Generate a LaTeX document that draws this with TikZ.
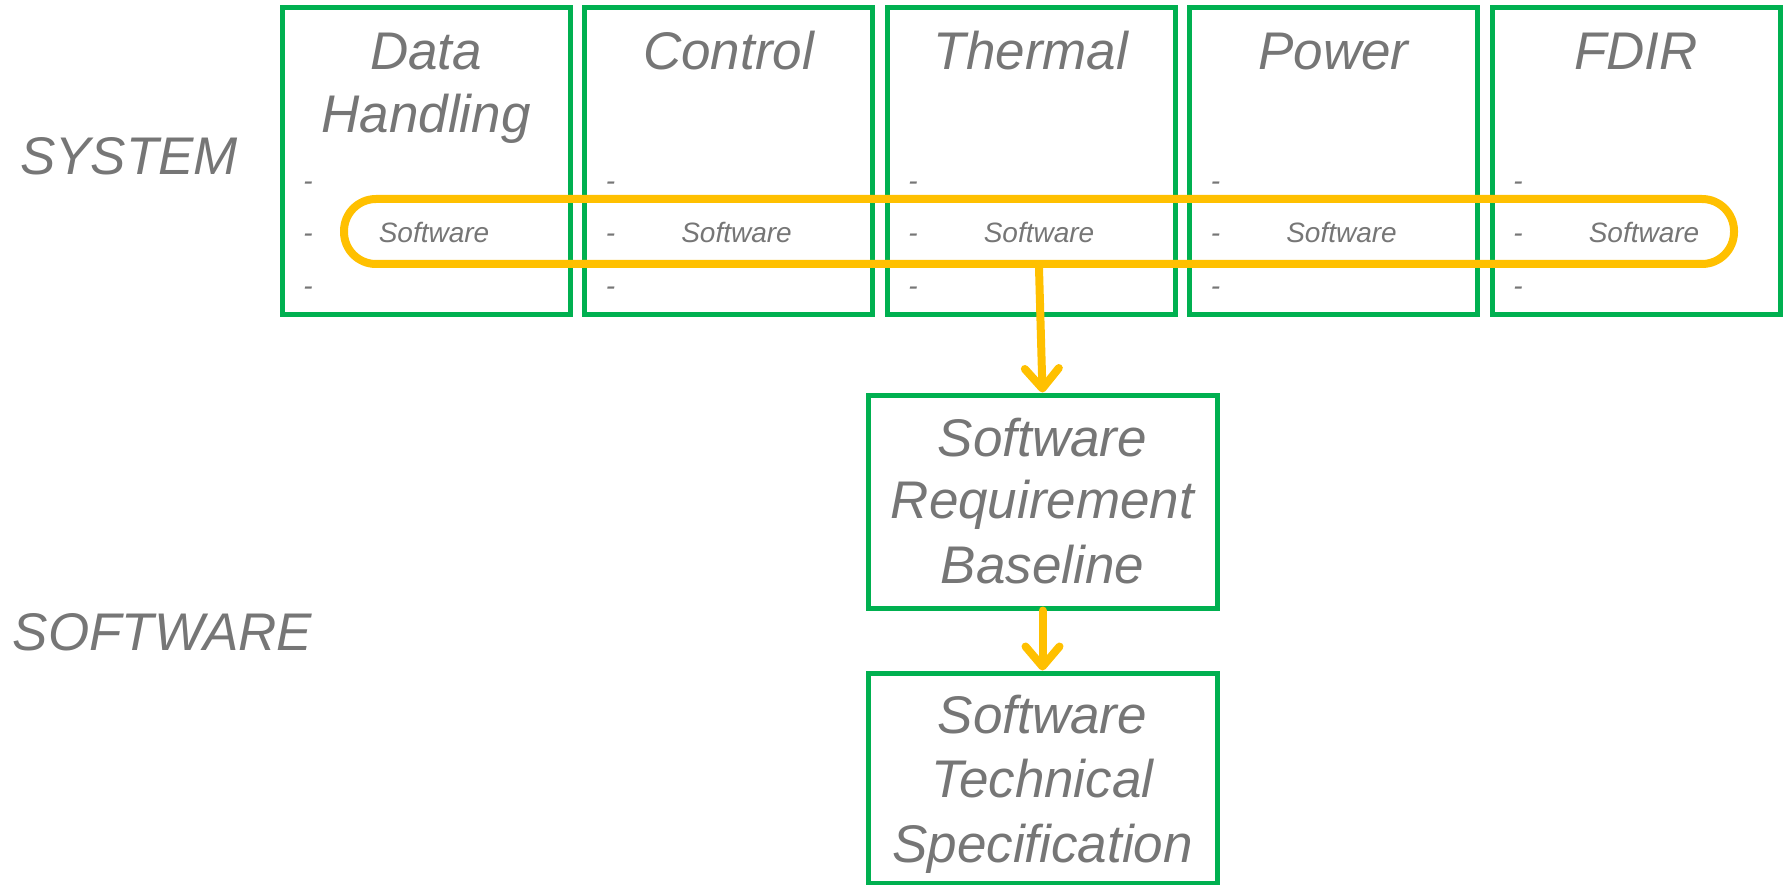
\documentclass[tikz,border=0pt]{standalone}
\usepackage{fontspec}
\setmainfont{Liberation Sans}
\usetikzlibrary{arrows.meta}
\definecolor{boxgreen}{HTML}{00B050}
\definecolor{loopor}{HTML}{FFC000}
\definecolor{txtgray}{HTML}{767676}
\begin{document}
\begin{tikzpicture}[x=1pt,y=-1pt,
  sysbox/.style={draw=boxgreen, line width=5pt, minimum width=288pt, minimum height=307pt, inner sep=0pt},
  swbox/.style={draw=boxgreen, line width=5pt, minimum width=349pt, inner sep=0pt},
  bigtxt/.style={anchor=base, text=txtgray, inner sep=0pt, font=\fontsize{53}{63}\selectfont\itshape},
  smalltxt/.style={anchor=base, text=txtgray, inner sep=0pt, font=\fontsize{28}{30}\selectfont\itshape},
  flow/.style={draw=loopor, line width=8pt, line cap=round, -{Straight Barb[length=20pt, width=34pt, line cap=round, line join=round]}}
]
\useasboundingbox (0,0) rectangle (1783,885);

% side labels
\node[bigtxt] (lsys) at (129,175) {SYSTEM};
\node[bigtxt] (lsw) at (162.5,650) {SOFTWARE};

% top boxes
\node[sysbox] (b1) at (426,161.5) {};
\node[sysbox] (b2) at (728.5,161.5) {};
\node[sysbox] (b3) at (1031,161.5) {};
\node[sysbox] (b4) at (1333.5,161.5) {};
\node[sysbox] (b5) at (1636,161.5) {};

% titles
\node[bigtxt] (t1a) at (426,70) {Data};
\node[bigtxt] (t1b) at (426,133) {Handling};
\node[bigtxt] (t2) at (728.5,70) {Control};
\node[bigtxt] (t3) at (1031,70) {Thermal};
\node[bigtxt] (t4) at (1333.5,70) {Power};
\node[bigtxt] (t5) at (1636,70) {FDIR};

% dashes and software items
\foreach \L [count=\i] in {282,584.5,887,1189.5,1492}{
  \node[smalltxt] (d\i a) at (\L+26,191) {-};
  \node[smalltxt] (d\i b) at (\L+26,243) {-};
  \node[smalltxt] (d\i c) at (\L+26,296) {-};
  \node[smalltxt] (s\i) at (\L+152,243) {Software};
}

% orange loop
\node[draw=loopor, line width=8pt, rounded corners=32pt, minimum width=1390pt, minimum height=65pt, inner sep=0pt] (loop) at (1039,231.5) {};

% software boxes
\node[swbox, minimum height=213pt] (srb) at (1042.5,501.5) {};
\node[bigtxt] (r1) at (1042.5,456) {Software};
\node[bigtxt] (r2) at (1042.5,518) {Requirement};
\node[bigtxt] (r3) at (1042.5,583) {Baseline};

\node[swbox, minimum height=210pt] (sts) at (1042.5,778) {};
\node[bigtxt] (q1) at (1042.5,733) {Software};
\node[bigtxt] (q2) at (1042.5,797) {Technical};
\node[bigtxt] (q3) at (1042.5,862) {Specification};

% arrows
\draw[flow] (loop.south) -- (srb.north);
\draw[flow] (srb.south) -- (sts.north);
\end{tikzpicture}
\end{document}
